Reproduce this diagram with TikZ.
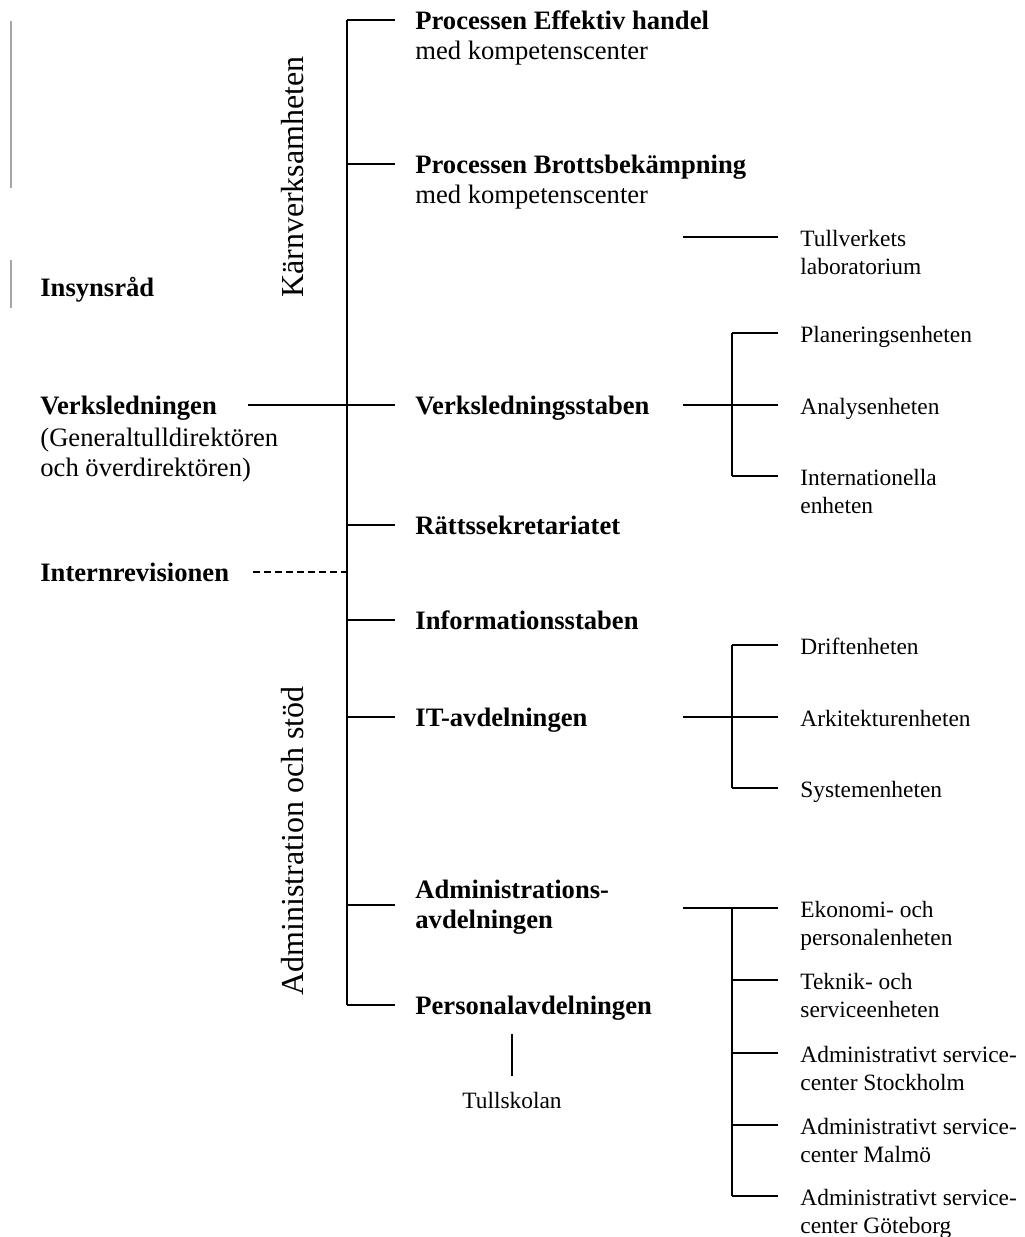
\documentclass[tikz,border=0pt]{standalone}
\usepackage{fontspec}
\setmainfont{Liberation Serif}
\usetikzlibrary{positioning}

\newcommand{\twoline}[2]{\begin{tabular}[t]{@{}l@{}}#1\\#2\end{tabular}}

\begin{document}
\begin{tikzpicture}[
    x=0.5pt, y=-0.5pt,
    unit/.style={inner sep=0pt, anchor=mid west, yshift=-2.5pt,
                 font=\fontsize{13.3}{15}\selectfont},
    hd/.style={unit, font=\fontsize{13.3}{15}\selectfont\bfseries},
    sub/.style={inner sep=0pt, anchor=mid west, yshift=-2.5pt,
                font=\fontsize{11.7}{14}\selectfont},
    side/.style={inner sep=0pt, rotate=90,
                 font=\fontsize{16}{19}\selectfont},
    ln/.style={line width=1pt},
    tick/.style={ln, shorten >=10pt},
    twig/.style={ln, shorten >=11pt},
    dsh/.style={line width=0.8pt, dash pattern=on 3.5pt off 2pt},
    gry/.style={line width=0.7pt, gray!70},
  ]
    \useasboundingbox (0,0) rectangle (1024,1237);

    % side labels
    \node[side](kv) at (293,177){Kärnverksamheten};
    \node[side](ados) at (293,841){Administration och stöd};

    % left column
    \node[hd](ins) at (40,287){Insynsråd};
    \node[hd](led) at (40,405){Verksledningen};
    \node[unit](ledsub) at (40,437){\twoline{(Generaltulldirektören}{och överdirektören)}};
    \node[hd](irev) at (40,572){Internrevisionen};

    % main column
    \coordinate (sptop) at (347,20);
    \coordinate (spbot) at (347,1005);
    \node[unit](peh) at (415,20){\twoline{\textbf{Processen Effektiv handel}}{med kompetenscenter}};
    \node[unit](pbb) at (415,164){\twoline{\textbf{Processen Brottsbekämpning}}{med kompetenscenter}};
    \node[hd](vls) at (415,405){Verksledningsstaben};
    \node[hd](rs) at (415,525){Rättssekretariatet};
    \node[hd](info) at (415,620){Informationsstaben};
    \node[hd](it) at (415,717){IT-avdelningen};
    \node[hd,anchor=west](adm) at (415,902){\begin{tabular}{@{}l@{}}Administrations-\\avdelningen\end{tabular}};
    \node[hd](pers) at (415,1005){Personalavdelningen};
    \node[sub,anchor=center,yshift=2.5pt](tsk) at (512,1100){Tullskolan};

    % units
    \node[sub](lab) at (800,237){\twoline{Tullverkets}{laboratorium}};
    \node[sub](plan) at (800,333){Planeringsenheten};
    \node[sub](anal) at (800,405){Analysenheten};
    \node[sub](intl) at (800,476){\twoline{Internationella}{enheten}};
    \node[sub](drift) at (800,645){Driftenheten};
    \node[sub](ark) at (800,717){Arkitekturenheten};
    \node[sub](sys) at (800,788){Systemenheten};
    \node[sub](eko) at (800,908){\twoline{Ekonomi- och}{personalenheten}};
    \node[sub](tek) at (800,980){\twoline{Teknik- och}{serviceenheten}};
    \node[sub](asc1) at (800,1053){\twoline{Administrativt service-}{center Stockholm}};
    \node[sub](asc2) at (800,1125){\twoline{Administrativt service-}{center Malmö}};
    \node[sub](asc3) at (800,1196){\twoline{Administrativt service-}{center Göteborg}};

    % spine and ticks
    \draw[ln](sptop)--(spbot);
    \foreach \n in {peh,pbb,vls,rs,info,it,adm,pers}
      \draw[tick]([yshift=2.5pt]sptop |- \n.mid west)--([yshift=2.5pt]\n.mid west);
    \draw[ln,shorten <=15.5pt]([yshift=2.5pt]led.mid east)--([yshift=2.5pt]sptop |- led.mid east);
    \draw[dsh,shorten <=12pt]([yshift=2.5pt]irev.mid east)--([yshift=2.5pt]sptop |- irev.mid east);
    \draw[ln,shorten <=6.5pt,shorten >=7.5pt](tsk.north |- pers.south)--(tsk.north);

    % branches
    \coordinate (labin) at (683,237);
    \draw[twig](labin)--([yshift=2.5pt]lab.mid west);

    \coordinate (vlsout) at (683,405);
    \coordinate (vlsbar) at (732,405);
    \draw[twig](vlsout)--([yshift=2.5pt]anal.mid west);
    \draw[ln]([yshift=2.5pt]vlsbar |- plan.mid west)--([yshift=2.5pt]vlsbar |- intl.mid west);
    \foreach \n in {plan,intl}
      \draw[twig]([yshift=2.5pt]vlsbar |- \n.mid west)--([yshift=2.5pt]\n.mid west);

    \coordinate (itout) at (683,717);
    \coordinate (itbar) at (732,717);
    \draw[twig](itout)--([yshift=2.5pt]ark.mid west);
    \draw[ln]([yshift=2.5pt]itbar |- drift.mid west)--([yshift=2.5pt]itbar |- sys.mid west);
    \foreach \n in {drift,sys}
      \draw[twig]([yshift=2.5pt]itbar |- \n.mid west)--([yshift=2.5pt]\n.mid west);

    \coordinate (admout) at (683,908);
    \coordinate (admbar) at (732,908);
    \draw[twig](admout)--([yshift=2.5pt]eko.mid west);
    \draw[ln](admbar)--([yshift=2.5pt]admbar |- asc3.mid west);
    \foreach \n in {tek,asc1,asc2,asc3}
      \draw[twig]([yshift=2.5pt]admbar |- \n.mid west)--([yshift=2.5pt]\n.mid west);

    % grey bars
    \draw[gry](11,21)--(11,188);
    \draw[gry](11,260)--(11,308);
  \end{tikzpicture}
\end{document}
